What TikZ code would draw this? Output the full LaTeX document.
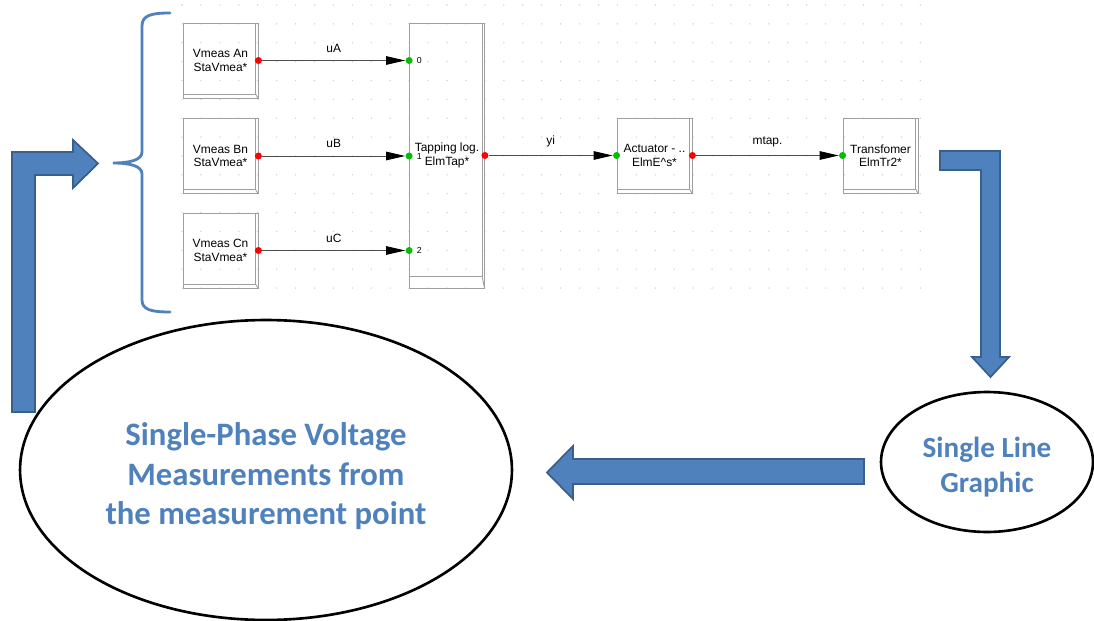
\documentclass[tikz,border=0pt]{standalone}
\usepackage{fontspec}
\setmainfont{Liberation Sans}
\newfontfamily\calib{Carlito}
\usetikzlibrary{arrows.meta, positioning, shapes.geometric}
\definecolor{blockblue}{HTML}{4F81BD}
\definecolor{blockedge}{HTML}{3A5F8D}
\definecolor{labelblue}{HTML}{4F81BD}

\begin{document}
\begin{tikzpicture}[x=0.02cm, y=-0.02cm,
  blk/.style={draw=gray!75, line width=0.5pt, minimum width=1.5cm, minimum height=1.5cm,
    inner sep=0pt, align=center, font=\fontsize{6.8}{7.6}\selectfont, bevel},
  bevel/.style={path picture={
    \draw[gray!75, line width=0.5pt]
      ([xshift=-0.05cm]path picture bounding box.north east)
      -- ([shift={(-0.05cm,#1)}]path picture bounding box.south east)
      -- ([yshift=#1]path picture bounding box.south west);
    \draw[gray!75, line width=0.5pt]
      ([shift={(-0.05cm,#1)}]path picture bounding box.south east)
      -- (path picture bounding box.south east);}},
  bevel/.default=0.08cm,
  outdot/.style={circle, fill=red, inner sep=0pt, minimum size=0.14cm},
  indot/.style={circle, fill=green!75!black, inner sep=0pt, minimum size=0.14cm},
  wire/.style={draw=gray!60!black, line width=0.5pt,
    -{Triangle[length=0.38cm, width=0.17cm, color=black]}},
  wlbl/.style={font=\fontsize{6.8}{7.6}\selectfont},
  portlbl/.style={font=\fontsize{5}{6}\selectfont, inner sep=0pt},
  bubble/.style={ellipse, draw=black, line width=1.5pt, align=center,
    text=labelblue, inner sep=0pt},
  blockarrow/.style={fill=blockblue, draw=blockedge, line width=1pt, line join=miter}]

  \fill[white] (0,0) rectangle (1094,621);
  \useasboundingbox (0,0) rectangle (1094,621);

  % grid of the diagram sheet
  \foreach \gx in {0,...,39}
    \foreach \gy in {0,...,15}
      \fill[gray!35] ({182+18.93*\gx},{5+18.87*\gy}) circle[radius=0.45pt];

  % measurement blocks
  \node[blk] (mA) at (220.5,60.5) {Vmeas An\\StaVmea*};
  \node[blk] (mB) at (220.5,156) {Vmeas Bn\\StaVmea*};
  \node[blk] (mC) at (220.5,250.5) {Vmeas Cn\\StaVmea*};

  % tapping logic, actuator, transformer
  \node[blk, bevel=0.24cm, minimum height=5.3cm] (tap) at (447,155.5) {Tapping log.\\ElmTap*};
  \node[blk] (act) at (654.5,155.5) {Actuator - ..\\ElmE\textasciicircum s*};
  \node[blk] (trf) at (880.5,155.5) {Transfomer\\ElmTr2*};

  % ports
  \foreach \b/\n in {mA/0, mB/1, mC/2} {
    \node[outdot] (\b-o) at (\b.east) {};
    \node[indot] (\b-i) at (tap.west |- \b.east) {};
    \node[portlbl, right=2pt of \b-i] (\b-n) {\n};
  }
  \node[outdot] (tap-o) at (tap.east) {};
  \node[indot] (act-i) at (act.west) {};
  \node[outdot] (act-o) at (act.east) {};
  \node[indot] (trf-i) at (trf.west) {};

  % signals
  \draw[wire] (mA-o) -- (mA-i) node[wlbl, midway, above=1pt] {uA};
  \draw[wire] (mB-o) -- (mB-i) node[wlbl, midway, above=1pt] {uB};
  \draw[wire] (mC-o) -- (mC-i) node[wlbl, midway, above=1pt] {uC};
  \draw[wire] (tap-o) -- (act-i) node[wlbl, midway, above=1pt] {yi};
  \draw[wire] (act-o) -- (trf-i) node[wlbl, midway, above=1pt] {mtap.};

  % brace round the measurements
  \draw[blockblue, line width=1.6pt, line cap=round]
    (170,13) .. controls (152,13) and (142,15) .. (142,26) -- (142,152)
    .. controls (142,160) and (130,163) .. (113,163)
    .. controls (130,163) and (142,166) .. (142,174) -- (142,300)
    .. controls (142,310) and (152,312) .. (170,312);

  % ellipses
  \node[bubble, minimum width=9.84cm, minimum height=6cm,
    font=\calib\bfseries\fontsize{18.6}{22.2}\selectfont] (meas) at (266,470)
    {\rule{0pt}{20pt}Single-Phase Voltage\\Measurements from\\the measurement point};
  \node[bubble, minimum width=4.24cm, minimum height=2.8cm,
    font=\calib\bfseries\fontsize{16.6}{19.8}\selectfont] (slg) at (987,462)
    {\rule{0pt}{17pt}Single Line\\Graphic};

  % block arrows
  \draw[blockarrow] (940,151) -- (1000,151) -- (1000,357) -- (1009,357) -- (990.5,377)
    -- (972,357) -- (981,357) -- (981,170) -- (940,170) -- cycle;
  \draw[blockarrow] (864,459) -- (573,459) -- (573,446) -- (547,472.5) -- (573,499)
    -- (573,484) -- (864,484) -- cycle;
  \draw[blockarrow] (12,412) -- (12,152) -- (73,152) -- (73,140) -- (98,163.5)
    -- (73,188) -- (73,175) -- (35,175) -- (35,412) -- cycle;
\end{tikzpicture}
\end{document}
